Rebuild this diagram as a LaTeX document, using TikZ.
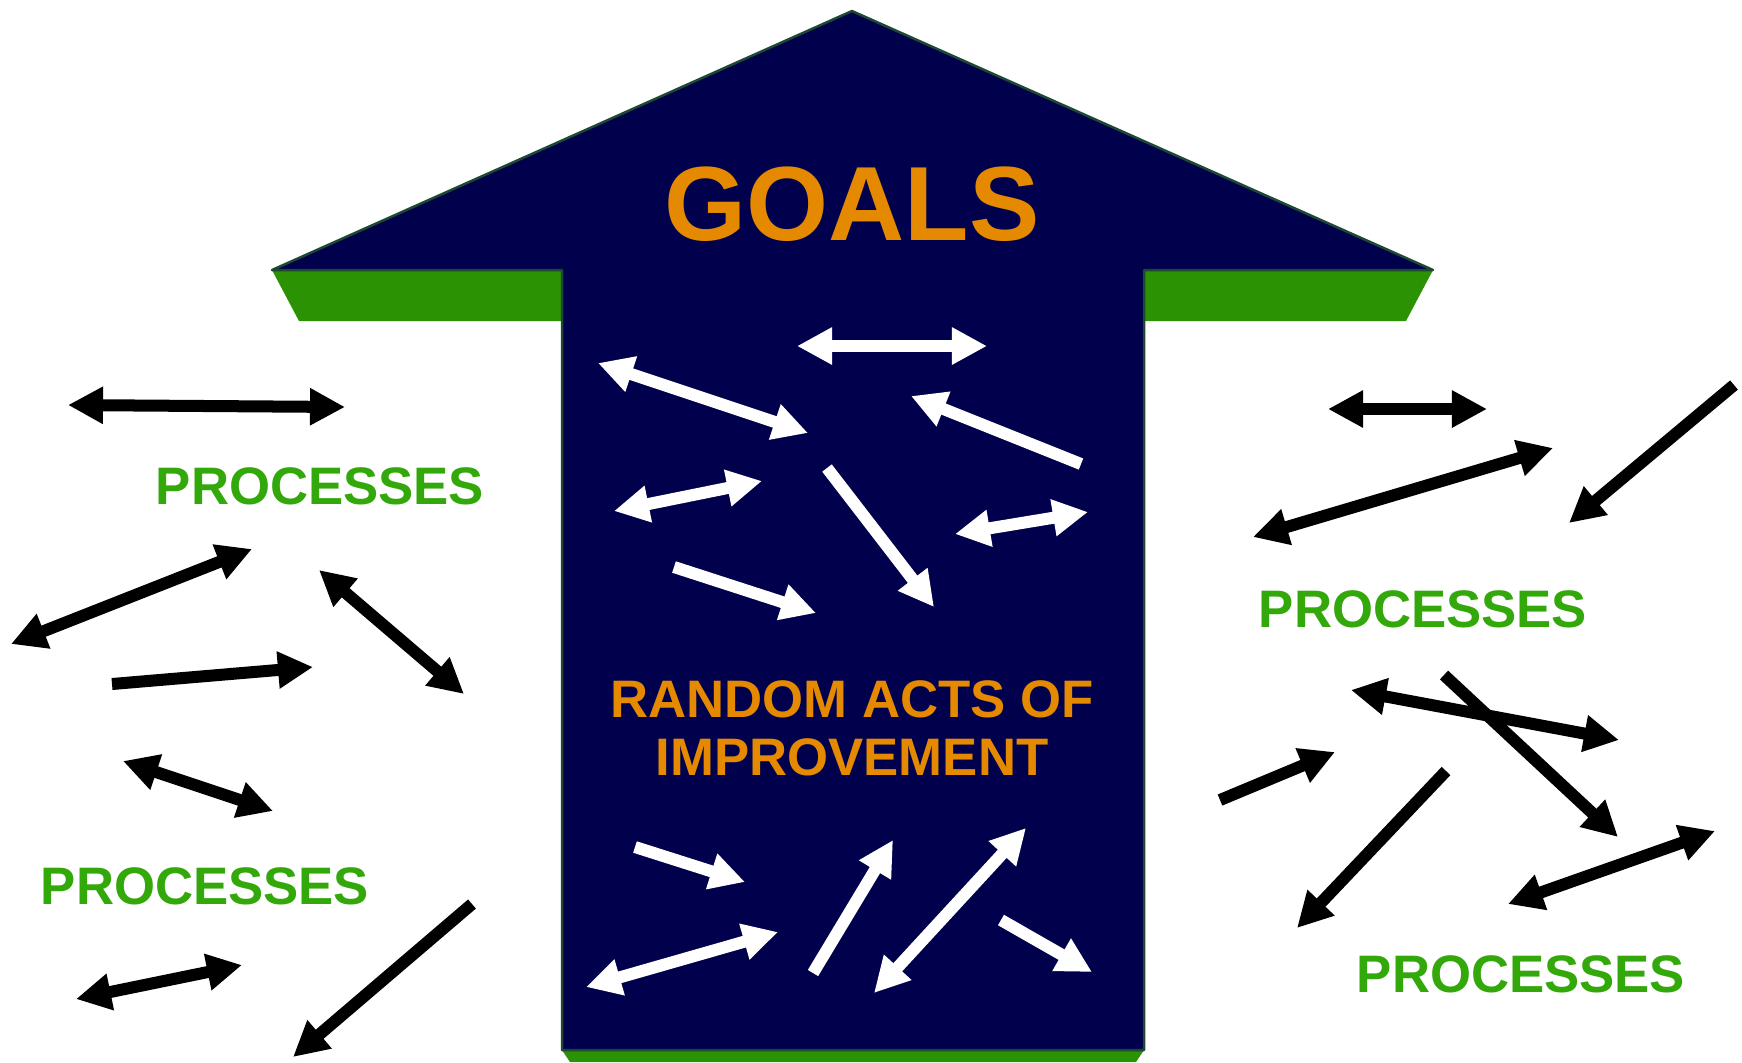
\documentclass[tikz,border=0pt]{standalone}
\usepackage{fontspec}
\setmainfont{Liberation Sans}
\usetikzlibrary{arrows.meta}
\definecolor{navy}{RGB}{0,0,76}
\definecolor{shelf}{RGB}{43,146,4}
\definecolor{rim}{RGB}{28,72,52}
\definecolor{goalorange}{RGB}{229,137,0}
\definecolor{procgreen}{RGB}{51,168,10}
\def \bigarrow{ (852,11) -- (1433,270) -- (1144,270) -- (1144,1050) -- (562,1050) -- (562,270) -- (272,270) -- cycle }
\def \leftshelf{ (272,270) -- (562,270) -- (562,321) -- (299,321) -- cycle }
\def \rightshelf{ (1144,270) -- (1433,270) -- (1406,321) -- (1144,321) -- cycle }
\def \baseshelf{ (562,1050) -- (1144,1050) -- (1136,1062) -- (570,1062) -- cycle }
\tikzset{
  proc/.style={font=\fontsize{15}{16.5}\selectfont\bfseries, text=procgreen, anchor=base, inner sep=0pt},
  goal/.style={font=\fontsize{30}{32}\selectfont\bfseries, text=goalorange, anchor=base, inner sep=0pt},
  acts/.style={font=\fontsize{15}{16.5}\selectfont\bfseries, text=goalorange, align=center, inner sep=0pt},
  blk/.style={line width=1.2mm, black},
  wht/.style={line width=1.2mm, white}
}

\begin{document}
\begin{tikzpicture}[x=0.01cm, y=-0.01cm, >={Triangle[length=3.5mm,width=3.5mm]}]

    \useasboundingbox (0,0) rectangle (1742,1062);

    \fill[shelf] \leftshelf;
    \fill[shelf] \rightshelf;
    \fill[shelf] \baseshelf;
    \filldraw[fill=navy, draw=rim, line width=0.25mm, line join=round] \bigarrow;

    \node[goal] (goals) at (852,240) {GOALS};
    \node[acts] (acts) at (852,728) {RANDOM ACTS OF\\IMPROVEMENT};

    \node[proc] (procUL) at (320,504) {PROCESSES};
    \node[proc] (procLL) at (205,904) {PROCESSES};
    \node[proc] (procUR) at (1423,627) {PROCESSES};
    \node[proc] (procLR) at (1521,992) {PROCESSES};

    \draw[blk,<->] (68,405) -- (345,407);
    \draw[blk,<->] (11,644) -- (252,549);
    \draw[blk,<->] (319,570) -- (464,694);
    \draw[blk,->] (112,684) -- (313,667);
    \draw[blk,<->] (123,761) -- (273,811);
    \draw[blk,<->] (76,999) -- (242,965);
    \draw[blk,->] (472,904) -- (293,1057);

    \draw[blk,<->] (1328,409) -- (1487,409);
    \draw[blk,<->] (1253,537) -- (1553,448);
    \draw[blk,->] (1734,385) -- (1569,523);
    \draw[blk,<->] (1351,690) -- (1619,740);
    \draw[blk,->] (1444,675) -- (1618,837);
    \draw[blk,->] (1220,800) -- (1335,752);
    \draw[blk,->] (1446,771) -- (1297,928);
    \draw[blk,<->] (1508,904) -- (1715,831);

    \draw[wht,<->] (797,346) -- (987,346);
    \draw[wht,<->] (598,363) -- (808,433);
    \draw[wht,->] (1081,464) -- (911,396);
    \draw[wht,<->] (614,511) -- (762,481);
    \draw[wht,->] (827,468) -- (934,607);
    \draw[wht,<->] (955,534) -- (1088,512);
    \draw[wht,->] (674,567) -- (816,613);
    \draw[wht,->] (635,847) -- (745,882);
    \draw[wht,<->] (586,987) -- (778,932);
    \draw[wht,->] (813,973) -- (893,840);
    \draw[wht,<->] (874,993) -- (1026,828);
    \draw[wht,->] (1001,920) -- (1092,972);

\end{tikzpicture}
\end{document}
